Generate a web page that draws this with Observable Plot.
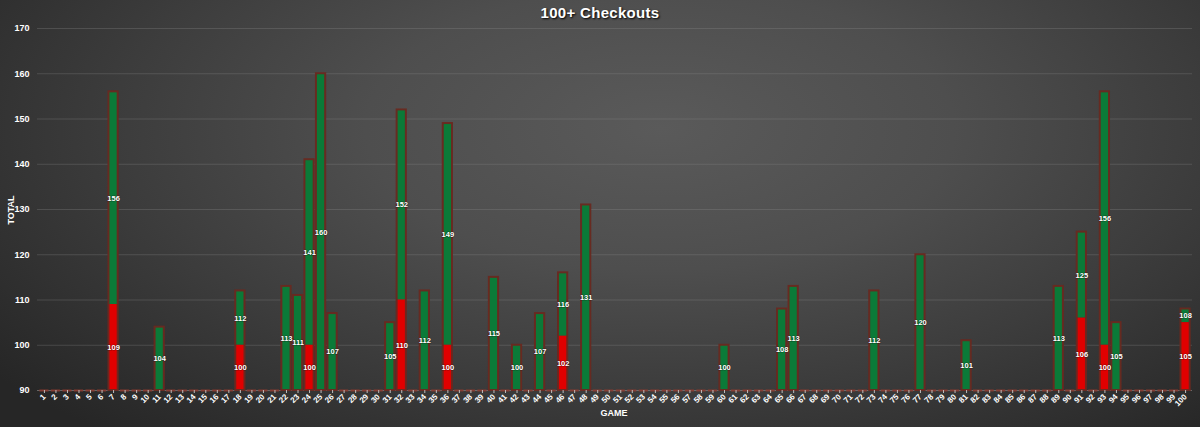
<!DOCTYPE html>
<html>
<head>
<meta charset="utf-8">
<script src="https://cdn.jsdelivr.net/npm/d3@7"></script>
<script src="https://cdn.jsdelivr.net/npm/@observablehq/plot@0.6"></script>
<style>
  html, body { margin: 0; padding: 0; }
  body { width: 1200px; height: 427px; overflow: hidden; }
  #wrap {
    position: relative; width: 1200px; height: 427px;
    background: radial-gradient(ellipse 70% 95% at 55% 30%, #5a5a5a 0%, #4e4e4e 35%, #3c3c3c 65%, #262626 100%);
    font-family: "Liberation Sans", Arial, sans-serif;
  }
  #title {
    position: absolute; left: 0; width: 1200px; top: 4px; text-align: center;
    color: #fff; font-weight: bold; font-size: 15px; letter-spacing: 0.3px;
    text-shadow: 1px 1px 2px #000;
  }
  #ylabel {
    position: absolute; left: 11px; top: 210px; color: #fff; font-weight: bold; font-size: 9px;
    transform: translate(-50%, -50%) rotate(-90deg); transform-origin: center;
  }
  #xlabel {
    position: absolute; left: 0; width: 1228px; top: 408px; text-align: center;
    color: #fff; font-weight: bold; font-size: 9px;
  }
  #chart { position: absolute; left: 0; top: 0; }
</style>
</head>
<body>
<div id="wrap">
  <div id="chart"></div>
  <div id="title">100+ Checkouts</div>
  <div id="ylabel">TOTAL</div>
  <div id="xlabel">GAME</div>
</div>
<script>
// Games 1..100
const games = d3.range(1, 101);
// Total checkout value per game (only games with a 100+ checkout)
const totalGames = [7, 11, 18, 22, 23, 24, 25, 26, 31, 32, 34, 36, 40, 42, 44, 46, 48, 60, 65, 66, 73, 77, 81, 89, 91, 93, 94, 100];
const totalValues = [156, 104, 112, 113, 111, 141, 160, 107, 105, 152, 112, 149, 115, 100, 107, 116, 131, 100, 108, 113, 112, 120, 101, 113, 125, 156, 105, 108];
// Red (second) checkout per game
const redGames = [7, 18, 24, 32, 36, 46, 91, 93, 100];
const redValues = [109, 100, 100, 110, 100, 102, 106, 100, 105];
const yTicks = [90, 100, 110, 120, 130, 140, 150, 160, 170];

const base = 90;
const totalMap = new Map(totalGames.map((g, i) => [g, totalValues[i]]));
const redMap = new Map(redGames.map((g, i) => [g, redValues[i]]));

const rows = games.map(g => ({
  game: String(g),
  total: totalMap.get(g) || 0,
  red: redMap.get(g) || 0
}));
const barRows = rows.filter(d => d.total > 0);
const emptyRows = rows.filter(d => d.total === 0).map(d => ({game: d.game, y: base}));
const greenRows = barRows.map(d => ({game: d.game, y1: d.red > 0 ? d.red : base, y2: d.total, label: d.total}));
const redRows = barRows.filter(d => d.red > 0).map(d => ({game: d.game, y1: base, y2: d.red, label: d.red}));

const xDomain = games.map(String);

const chart = Plot.plot({
  width: 1200,
  height: 427,
  marginLeft: 37,
  marginRight: 8,
  marginTop: 28,
  marginBottom: 37,
  style: {background: "transparent", color: "#fff", fontFamily: "Liberation Sans, Arial, sans-serif", overflow: "visible"},
  x: {domain: xDomain, padding: 0.2, label: null, tickRotate: -45, tickSize: 3, tickPadding: 2},
  y: {domain: [90, 170], ticks: yTicks, label: null, tickSize: 0, tickPadding: 8, tickFormat: d => d},
  marks: [
    Plot.gridY(yTicks, {stroke: "#8a8a8a", strokeOpacity: 0.3, strokeWidth: 1}),
    Plot.ruleY([base], {stroke: "#8a8a8a", strokeOpacity: 0.5}),
    Plot.tickY(emptyRows, {x: "game", y: "y", stroke: "#8a3a30", strokeWidth: 2, strokeOpacity: 0.9}),
    Plot.barY(greenRows, {x: "game", y1: "y1", y2: "y2", fill: "#0b7a38"}),
    Plot.barY(redRows, {x: "game", y1: "y1", y2: "y2", fill: "#e00000"}),
    Plot.barY(barRows, {x: "game", y1: () => base, y2: "total", fill: "none", stroke: "#6a2820", strokeWidth: 2, strokeOpacity: 0.95}),
    Plot.axisY({ticks: yTicks, tickSize: 0, tickPadding: 8, fontWeight: "bold", fontSize: 9, fill: "#fff"}),
    Plot.axisX({tickRotate: -45, tickSize: 3, tickPadding: 2, fontWeight: "bold", fontSize: 8, fill: "#fff", stroke: "#bbb"}),
    Plot.text(greenRows, {x: "game", y: d => (d.y1 + d.y2) / 2, text: "label", fill: "#fff", fontWeight: "bold", fontSize: 7.5, stroke: "#000", strokeWidth: 1.2, strokeOpacity: 0.35}),
    Plot.text(redRows, {x: "game", y: d => (d.y1 + d.y2) / 2, text: "label", fill: "#fff", fontWeight: "bold", fontSize: 7.5, stroke: "#000", strokeWidth: 1.2, strokeOpacity: 0.35})
  ]
});
document.getElementById("chart").appendChild(chart);
</script>
</body>
</html>
